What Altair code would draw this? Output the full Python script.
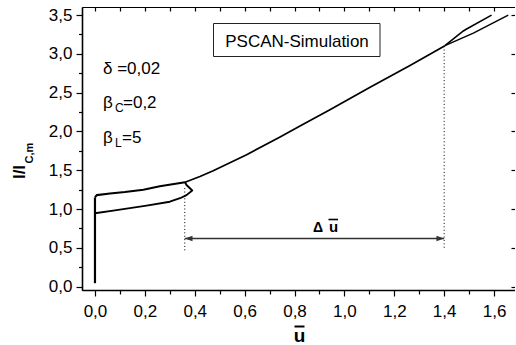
import altair as alt
import pandas as pd

FONT = "Liberation Sans"

# ---- simulated I-V characteristic (u = mean voltage, I = current / I_c,m) ----
zero_u = [0.0, 0.0]
zero_i = [0.045, 1.15]

upper_u = [0.0, 0.007, 0.06, 0.12, 0.194, 0.26, 0.361]
upper_i = [1.15, 1.18, 1.20, 1.22, 1.25, 1.295, 1.345]

lower_u = [0.0, 0.073, 0.207, 0.30, 0.341, 0.367, 0.39, 0.367, 0.361]
lower_i = [0.946, 0.98, 1.044, 1.095, 1.14, 1.18, 1.24, 1.31, 1.345]

main_u = [0.361, 0.421, 0.474, 0.608, 0.742, 0.822, 0.942, 1.103, 1.263, 1.403]
main_i = [1.345, 1.42, 1.495, 1.70, 1.93, 2.07, 2.28, 2.57, 2.85, 3.106]

split_a_u = [1.403, 1.477, 1.49, 1.59]
split_a_i = [3.106, 3.295, 3.32, 3.50]
split_b_u = [1.403, 1.517, 1.657]
split_b_i = [3.106, 3.266, 3.50]

# dotted guides and the Delta-u arrow between them
guide_u = [0.36, 1.40]
guide_top = [1.27, 3.10]
guide_bottom = [0.45, 0.50]
arrow_i = 0.62

# axis ticks
x_major = [0.0, 0.2, 0.4, 0.6, 0.8, 1.0, 1.2, 1.4, 1.6]
x_minor = [0.1, 0.3, 0.5, 0.7, 0.9, 1.1, 1.3, 1.5]
x_all = [0.0, 0.1, 0.2, 0.3, 0.4, 0.5, 0.6, 0.7, 0.8, 0.9, 1.0, 1.1, 1.2, 1.3, 1.4, 1.5, 1.6]
y_major = [0.0, 0.5, 1.0, 1.5, 2.0, 2.5, 3.0, 3.5]
y_minor = [0.25, 0.75, 1.25, 1.75, 2.25, 2.75, 3.25]

XDOM = [-0.052, 1.684]
YDOM = [-0.0425, 3.604]

# ---- tables ----
rows = []
for name, us, is_ in [("zero", zero_u, zero_i), ("upper", upper_u, upper_i),
                      ("lower", lower_u, lower_i), ("main", main_u, main_i),
                      ("split_a", split_a_u, split_a_i), ("split_b", split_b_u, split_b_i)]:
    for k, (u, i) in enumerate(zip(us, is_)):
        rows.append({"u": u, "I": i, "seg": name, "k": k})
curves = pd.DataFrame(rows)

guides = pd.DataFrame(
    [{"u": u, "I": a, "g": n} for n, (u, a, b) in enumerate(zip(guide_u, guide_top, guide_bottom))]
    + [{"u": u, "I": b, "g": n} for n, (u, a, b) in enumerate(zip(guide_u, guide_top, guide_bottom))]
)
arrow = pd.DataFrame({"u0": [guide_u[0]], "u1": [guide_u[1]], "I": [arrow_i]})
heads = pd.DataFrame({"u": guide_u, "I": [arrow_i, arrow_i],
                      "side": ["left", "right"]})

xs = alt.Scale(domain=XDOM, nice=False, zero=False)
ys = alt.Scale(domain=YDOM, nice=False, zero=False)

comma = "replace(format(datum.value, '.1f'), '.', ',')"
common = dict(title=None, grid=False, tickColor="black", domainColor="black",
              labelFont=FONT, labelFontSize=17, labelColor="black",
              labelOverlap=False, labelFlush=False, tickWidth=1.2)

ax_bottom = alt.Axis(orient="bottom", values=x_major, tickSize=6, domainWidth=1.6,
                     labelPadding=7, labelExpr=comma, **common)
ax_left = alt.Axis(orient="left", values=y_major, tickSize=6, domainWidth=1.6,
                   labelPadding=4, labelExpr=comma, **common)
ax_bottom_minor = alt.Axis(orient="bottom", values=x_minor, tickSize=4, domain=False,
                           labels=False, **common)
ax_left_minor = alt.Axis(orient="left", values=y_minor, tickSize=3.5, domain=False,
                         labels=False, **common)
ax_top = alt.Axis(orient="top", values=x_all, tickSize=4, offset=-4, domain=False,
                  labels=False, **common)
ax_right = alt.Axis(orient="right", values=y_major, tickSize=4, offset=-4, domain=False,
                    labels=False, **common)

curve_layer = alt.Chart(curves).mark_line(color="black", strokeJoin="round").encode(
    x=alt.X("u:Q", scale=xs, axis=ax_bottom),
    y=alt.Y("I:Q", scale=ys, axis=ax_left),
    detail="seg:N",
    order="k:Q",
    strokeWidth=alt.StrokeWidth(
        "seg:N",
        scale=alt.Scale(domain=["zero", "upper", "lower", "main", "split_a", "split_b"],
                        range=[2.2, 1.4, 1.4, 2.2, 1.4, 1.6]),
        legend=None),
)

guide_layer = alt.Chart(guides).mark_line(color="black", strokeWidth=1,
                                          strokeDash=[1, 2.4]).encode(
    x=alt.X("u:Q", scale=xs, axis=ax_bottom_minor),
    y=alt.Y("I:Q", scale=ys, axis=ax_left_minor),
    detail="g:N",
)

arrow_layer = alt.Chart(arrow).mark_rule(color="#333333", strokeWidth=1.5).encode(
    x=alt.X("u0:Q", scale=xs, axis=ax_top),
    x2="u1:Q",
    y=alt.Y("I:Q", scale=ys, axis=ax_right),
)

head_left = alt.Chart(heads[heads.side == "left"]).mark_point(
    shape="M0,0L1,-0.36L1,0.36Z", size=240, filled=True, opacity=1, color="#333333"
).encode(x=alt.X("u:Q", scale=xs, axis=None), y=alt.Y("I:Q", scale=ys, axis=None))
head_right = alt.Chart(heads[heads.side == "right"]).mark_point(
    shape="M0,0L-1,-0.36L-1,0.36Z", size=240, filled=True, opacity=1, color="#333333"
).encode(x=alt.X("u:Q", scale=xs, axis=None), y=alt.Y("I:Q", scale=ys, axis=None))

one = pd.DataFrame({"k": [0]})


def text(s, x, y, size, bold=False, align="left", baseline="alphabetic", angle=0):
    return alt.Chart(one).mark_text(
        text=s, font=FONT, fontSize=size, fontWeight="bold" if bold else "normal",
        align=align, baseline=baseline, angle=angle, color="black"
    ).encode(x=alt.value(x), y=alt.value(y))


def bar(x0, x1, y, w):
    return alt.Chart(one).mark_rule(color="black", strokeWidth=w).encode(
        x=alt.value(x0), x2=alt.value(x1), y=alt.value(y))


box = alt.Chart(one).mark_rect(fill="white", stroke="#222222", strokeWidth=1).encode(
    x=alt.value(131.5), x2=alt.value(298), y=alt.value(16.5), y2=alt.value(49.5))

labels = [
    box,
    text("PSCAN-Simulation", 215, 35, 17, align="center", baseline="middle"),
    text("δ =0,02", 21, 67, 17),
    text("β", 21, 101, 17), text("C", 33, 104.5, 12), text("=0,2", 41, 101, 17),
    text("β", 21, 136, 17), text("L", 33, 139.5, 12), text("=5", 40, 136, 17),
    text("Δ", 231, 224.5, 14, bold=True), text("u", 247, 224.5, 15, bold=True),
    bar(246.5, 256, 212.5, 1.6),
    text("u", 217.5, 335, 19, bold=True, align="center"),
    bar(212.5, 222.5, 319.5, 2),
    text("I/I", -62, 165, 17, bold=True, align="center", baseline="middle", angle=270),
    text("C,m", -52, 146, 11, bold=True, align="center", baseline="middle", angle=270),
]

chart = alt.layer(
    curve_layer, guide_layer, arrow_layer, head_left, head_right, *labels
).resolve_axis(x="independent", y="independent").properties(
    width=433, height=283,
    autosize=alt.AutoSizeParams(type="none"),
    padding={"left": 82, "top": 7, "right": 0, "bottom": 55},
).configure_view(stroke="black", strokeWidth=1)

chart.save("out.html", embed_options={"renderer": "svg", "actions": False})
